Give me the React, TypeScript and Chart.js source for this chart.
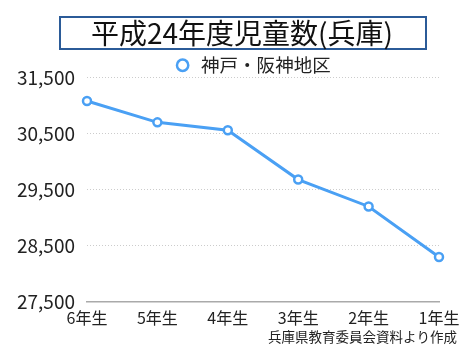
import React, { useEffect, useRef } from "react";
import { Chart, registerables } from "chart.js";

Chart.register(...registerables);

const titleText = "平成24年度児童数(兵庫)";
const seriesName = "神戸・阪神地区";
const sourceText = "兵庫県教育委員会資料より作成";
const categories = ["6年生", "5年生", "4年生", "3年生", "2年生", "1年生"];
const values = [31080, 30700, 30560, 29680, 29200, 28300];
const yMin = 27500;
const yMax = 31500;
const yStep = 1000;

const FONT = "'Noto Sans CJK JP', 'Noto Sans', sans-serif";

const decorPlugin = {
  id: "decor",
  afterLayout(chart: any) {
    const lg = chart.legend;
    if (lg) {
      const dx = 25;
      const dy = 7;
      lg.left += dx;
      lg.right += dx;
      lg.top += dy;
      lg.bottom += dy;
    }
  },
  afterDraw(chart: any) {
    const ctx = chart.ctx;
    ctx.save();
    // boxed title
    ctx.strokeStyle = "#2b5b98";
    ctx.lineWidth = 2;
    ctx.strokeRect(60, 17, 366, 32);
    ctx.fillStyle = "#111";
    ctx.font = `normal 28px ${FONT}`;
    ctx.textAlign = "center";
    ctx.textBaseline = "middle";
    ctx.fillText(titleText, 242, 33);
    // source note
    ctx.font = `normal 13.5px ${FONT}`;
    ctx.textAlign = "right";
    ctx.fillStyle = "#222";
    ctx.fillText(sourceText, 457, 337);
    ctx.restore();
  },
};

export default function App() {
  const ref = useRef<HTMLCanvasElement>(null);
  useEffect(() => {
    if (!ref.current) return;
    const chart = new Chart(ref.current, {
      type: "line",
      data: {
        labels: categories,
        datasets: [
          {
            label: seriesName,
            data: values,
            borderColor: "#4aa0f4",
            backgroundColor: "#ffffff",
            borderWidth: 3,
            pointRadius: 4,
            pointBorderWidth: 2.5,
            pointBackgroundColor: "#ffffff",
            pointBorderColor: "#4aa0f4",
            tension: 0,
          },
        ],
      },
      options: {
        animation: false,
        responsive: false,
        maintainAspectRatio: false,
        events: [],
        layout: { padding: { left: 15, right: 31, top: 45, bottom: 18 } },
        plugins: {
          title: { display: false },
          legend: {
            display: true,
            labels: {
              usePointStyle: true,
              pointStyle: "circle",
              boxWidth: 22,
              boxHeight: 8,
              color: "#222",
              font: { family: FONT, size: 18.5 },
              padding: 4,
            },
          },
          tooltip: { enabled: false },
        },
        scales: {
          x: {
            offset: false,
            grid: { display: false, drawTicks: false },
            border: { display: true, color: "#aaaaaa", width: 1.5 },
            ticks: {
              color: "#222",
              font: { family: FONT, size: 16 },
              padding: 7,
              maxRotation: 0,
            },
          },
          y: {
            min: yMin,
            max: yMax,
            afterFit: (s: any) => {
              s.width = 72;
            },
            grid: { color: "#cccccc", lineWidth: 1, drawTicks: false },
            border: { display: false, dash: [1, 2] },
            ticks: {
              stepSize: yStep,
              color: "#222",
              font: { family: FONT, size: 19 },
              padding: 12,
              callback: (v: any) => Number(v).toLocaleString("en-US"),
            },
          },
        },
      },
      plugins: [decorPlugin],
    });
    return () => chart.destroy();
  }, []);
  return (
    <div style={{ position: "fixed", left: 0, top: 0, width: 470, height: 353, background: "#fff" }}>
      <canvas ref={ref} width={470} height={353} style={{ width: 470, height: 353 }} />
    </div>
  );
}
